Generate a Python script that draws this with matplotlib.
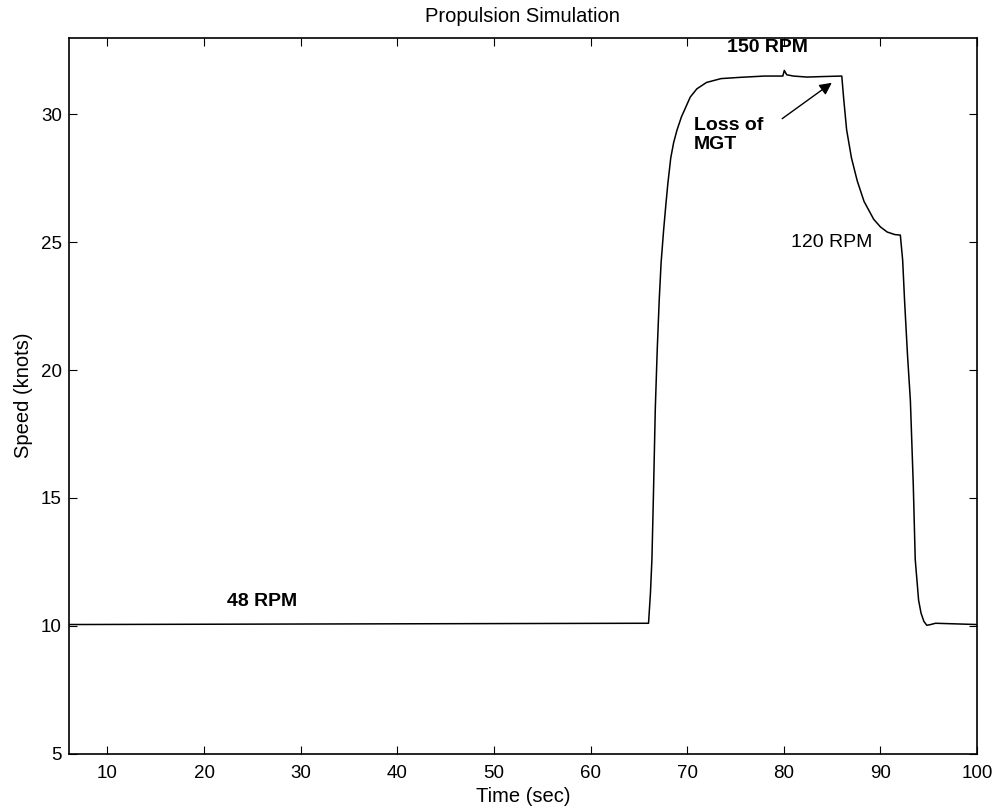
import matplotlib
matplotlib.use("Agg")
import matplotlib.pyplot as plt

plt.rcParams['font.family'] = ['Liberation Sans', 'DejaVu Sans']

# speed trace
time_sec = [6.0, 66.0, 66.2, 66.35, 66.5, 66.7, 66.9, 67.1, 67.3, 67.56, 67.8, 68.0,
            68.3, 68.6, 68.94, 69.4, 70.32, 71.0, 72.0, 73.5, 75.5, 78.0, 79.9,
            80.05, 80.3, 81.0, 82.4, 84.0, 86.0, 86.2, 86.5, 87.0, 87.6, 88.3,
            89.3, 90.0, 90.7, 91.5, 92.06, 92.3, 92.5, 92.8, 93.1, 93.4, 93.6,
            93.95, 94.2, 94.5, 94.8, 95.2, 95.7, 100.0]
speed_knots = [10.05, 10.1, 11.3, 12.6, 15.0, 18.5, 20.8, 22.7, 24.2, 25.47, 26.5, 27.3,
               28.3, 28.9, 29.38, 29.9, 30.68, 31.0, 31.25, 31.4, 31.45, 31.5, 31.5,
               31.72, 31.55, 31.5, 31.46, 31.48, 31.5, 30.6, 29.4, 28.3, 27.4, 26.6,
               25.9, 25.6, 25.4, 25.3, 25.28, 24.3, 22.7, 20.6, 18.8, 15.5, 12.6,
               11.0, 10.5, 10.17, 10.02, 10.05, 10.1, 10.05]

x_ticks = [10, 20, 30, 40, 50, 60, 70, 80, 90, 100]
y_ticks = [5, 10, 15, 20, 25, 30]

fig = plt.figure(figsize=(9.97, 8.09), dpi=100)
ax = fig.add_axes([0.069, 0.0684, 0.911, 0.885])

ax.plot(time_sec, speed_knots, color='k', linewidth=1.1)

ax.set_xlim(6, 100)
ax.set_ylim(5, 33)
ax.set_xticks(x_ticks)
ax.set_yticks(y_ticks)
ax.tick_params(direction='in', length=6, width=0.8, labelsize=13.5, top=True, right=True)
ax.tick_params(axis='x', pad=8)
ax.tick_params(axis='y', pad=5)
for s in ax.spines.values():
    s.set_linewidth(1.2)

ax.set_title("Propulsion Simulation", fontsize=14.5, pad=11)
ax.set_xlabel("Time (sec)", fontsize=14.5, labelpad=4)
ax.set_ylabel("Speed (knots)", fontsize=14.5, labelpad=6)

# annotations
ax.text(78.3, 32.6, "150 RPM", fontsize=14, fontweight='bold', ha='center', va='center')
ax.text(26.0, 10.94, "48 RPM", fontsize=14, fontweight='bold', ha='center', va='center')
ax.text(85.0, 25.0, "120 RPM", fontsize=14, ha='center', va='center')
ax.text(70.7, 29.2, "Loss of\nMGT", fontsize=14, fontweight='bold', ha='left', va='center',
        linespacing=1.1)
ax.annotate("", xy=(85.2, 31.3), xytext=(79.6, 29.77),
            arrowprops=dict(arrowstyle='-|>', color='k', lw=1.0, mutation_scale=18))

fig.savefig("out.png", dpi=100)
